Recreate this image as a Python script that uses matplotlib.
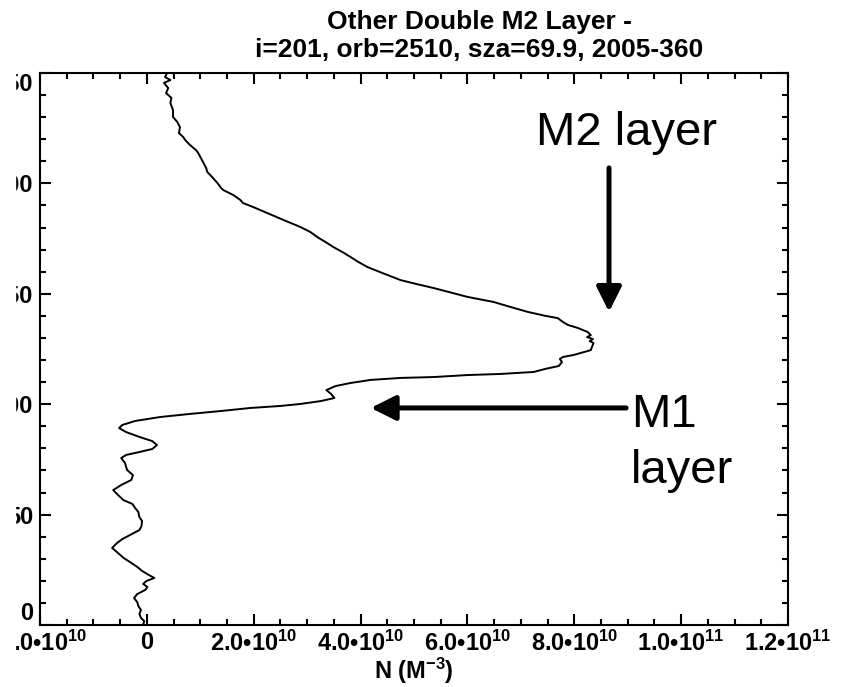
import numpy as np
import matplotlib.pyplot as plt
from matplotlib.ticker import MultipleLocator
from matplotlib.patches import Rectangle

plt.rcParams['font.family'] = ['Liberation Sans', 'DejaVu Sans']
plt.rcParams['font.weight'] = 'bold'
plt.rcParams['axes.labelweight'] = 'bold'
plt.rcParams['mathtext.fontset'] = 'custom'
plt.rcParams['mathtext.rm'] = 'Liberation Sans:bold'
plt.rcParams['mathtext.it'] = 'Liberation Sans:bold'
plt.rcParams['mathtext.bf'] = 'Liberation Sans:bold'

# electron density profile (units of 1e10 m^-3) vs altitude (km)
altitude = [250.0, 248.2, 246.8, 245.5, 243.2, 240.9, 238.7, 236.4, 233.2, 230.1,
            227.8, 225.5, 222.8, 221.0, 219.6, 217.8, 216.5, 215.1, 213.8, 212.0,
            209.2, 207.0, 205.2, 202.4, 200.2, 197.9, 197.0, 194.7, 192.5, 191.1,
            189.3, 186.6, 183.4, 181.6, 180.3, 178.0, 175.7, 173.5, 171.2, 168.9,
            166.7, 164.4, 162.1, 159.4, 156.2, 154.4, 152.6, 150.4, 148.6, 146.3,
            144.0, 141.8, 140.0, 139.0, 137.2, 135.9, 134.5, 132.7, 131.3, 130.4,
            129.5, 128.6, 127.7, 125.9, 124.5, 123.2, 122.3, 121.4, 120.5, 119.1,
            117.3, 116.0, 114.6, 113.7, 113.2, 112.3, 111.9, 111.0, 109.6, 108.2,
            106.4, 104.6, 102.8, 101.4, 100.1, 99.2, 98.3, 96.9, 95.6, 94.2,
            92.4, 90.6, 89.2, 87.4, 85.1, 83.3, 81.5, 79.7, 78.4, 77.0,
            75.6, 73.4, 70.2, 67.9, 65.7, 63.4, 61.1, 58.9, 56.6, 54.8,
            53.0, 51.2, 48.9, 47.1, 44.8, 43.0, 40.8, 38.9, 37.1, 34.9,
            32.6, 30.3, 28.1, 26.3, 24.5, 22.6, 21.3, 19.9, 18.6, 17.2,
            15.9, 14.0, 12.2, 10.4, 8.6, 6.8, 5.0, 3.2, 1.8, 0.0]
density = [0.38, 0.34, 0.44, 0.32, 0.40, 0.36, 0.46, 0.44, 0.49, 0.49,
           0.57, 0.62, 0.60, 0.68, 0.72, 0.79, 0.85, 0.92, 0.96, 1.00,
           1.06, 1.11, 1.13, 1.24, 1.32, 1.39, 1.43, 1.62, 1.75, 1.80,
           1.99, 2.25, 2.56, 2.74, 2.87, 3.06, 3.19, 3.34, 3.49, 3.66,
           3.81, 3.96, 4.13, 4.41, 4.75, 5.05, 5.37, 5.72, 6.00, 6.49,
           6.81, 7.13, 7.46, 7.69, 7.79, 7.88, 8.07, 8.25, 8.31, 8.24,
           8.35, 8.29, 8.36, 8.33, 8.31, 8.12, 7.99, 7.79, 7.73, 7.77,
           7.71, 7.46, 7.24, 6.62, 6.00, 5.37, 4.75, 4.19, 3.81, 3.53,
           3.36, 3.45, 3.51, 3.25, 2.87, 2.50, 1.94, 1.38, 0.81, 0.25,
           -0.22, -0.46, -0.52, -0.39, -0.13, 0.10, 0.19, 0.10, -0.13, -0.39,
           -0.48, -0.41, -0.37, -0.26, -0.29, -0.48, -0.63, -0.54, -0.44, -0.27,
           -0.22, -0.16, -0.14, -0.09, -0.10, -0.14, -0.31, -0.46, -0.56, -0.65,
           -0.54, -0.43, -0.29, -0.18, -0.09, 0.04, 0.14, -0.01, -0.07, 0.01,
           -0.03, -0.18, -0.24, -0.18, -0.16, -0.11, -0.14, -0.11, -0.05, -0.07]

xtick_values = [-2e10, 0, 2e10, 4e10, 6e10, 8e10, 1e11, 1.2e11]
xtick_labels = ['-2.0\u202210$^{10}$', '0', '2.0\u202210$^{10}$', '4.0\u202210$^{10}$',
                '6.0\u202210$^{10}$', '8.0\u202210$^{10}$', '1.0\u202210$^{11}$',
                '1.2\u202210$^{11}$']
ytick_values = [0, 50, 100, 150, 200, 250]

# layer markers: text position, arrow tail, arrow tip in data units
m2_text = (7.28e10, 217.4)
m2_arrow = ((8.65e10, 207.0), (8.65e10, 141.8))
m1_text = (9.06e10, 89.7)
m1_arrow = ((8.97e10, 98.3), (4.19e10, 98.3))

fig = plt.figure(figsize=(8.44, 6.87), dpi=100)
ax = fig.add_axes([40 / 844, 62 / 687, 748 / 844, 552 / 687])

ax.plot(np.array(density) * 1e10, altitude, color='black', lw=1.4)

ax.set_xlim(-2e10, 1.2e11)
ax.set_ylim(0, 250)
ax.set_xticks(xtick_values)
ax.set_xticklabels(xtick_labels)
ax.set_yticks(ytick_values)
ax.xaxis.set_minor_locator(MultipleLocator(5e9))
ax.yaxis.set_minor_locator(MultipleLocator(10))

ax.tick_params(which='both', direction='in', top=True, right=True, width=1.5,
               labelsize=17)
ax.tick_params(which='major', length=8)
ax.tick_params(which='minor', length=4.3)
ax.tick_params(axis='x', pad=4)
ax.tick_params(axis='y', pad=5)
for s in ax.spines.values():
    s.set_linewidth(1.5)

# end labels on the altitude axis sit inside the frame
yt = ax.yaxis.get_major_ticks()
yt[0].label1.set_va('bottom')
yt[-1].label1.set_va('top')

ax.set_xlabel('N (M$^{-3}$)', fontsize=17, fontweight='bold', labelpad=0)

fig.text(479 / 844, 1 - 29 / 687, 'Other Double M2 Layer -', ha='center',
         va='baseline', fontsize=19, fontweight='bold')
fig.text(479 / 844, 1 - 57 / 687, 'i=201, orb=2510, sza=69.9, 2005-360',
         ha='center', va='baseline', fontsize=19, fontweight='bold')

arrow_style = dict(arrowstyle='-|>,head_length=1.0,head_width=0.5', color='black',
                   lw=3.6, mutation_scale=15, shrinkA=0, shrinkB=0)
ax.annotate('', xy=m2_arrow[1], xytext=m2_arrow[0], arrowprops=arrow_style)
ax.annotate('', xy=m1_arrow[1], xytext=m1_arrow[0], arrowprops=arrow_style)

label_font = dict(fontweight='normal', fontsize=34, va='baseline', ha='left')
ax.text(*m2_text, 'M2 layer', **label_font)
ax.text(*m1_text, 'M1', **label_font)
ax.text(m1_text[0], m1_text[1] - 25.4, 'layer', **label_font)

# left margin of the page is blank
fig.patches.append(Rectangle((0, 0), 15 / 844, 1, transform=fig.transFigure,
                             color='white', zorder=10))

fig.savefig('out.png', dpi=100)
